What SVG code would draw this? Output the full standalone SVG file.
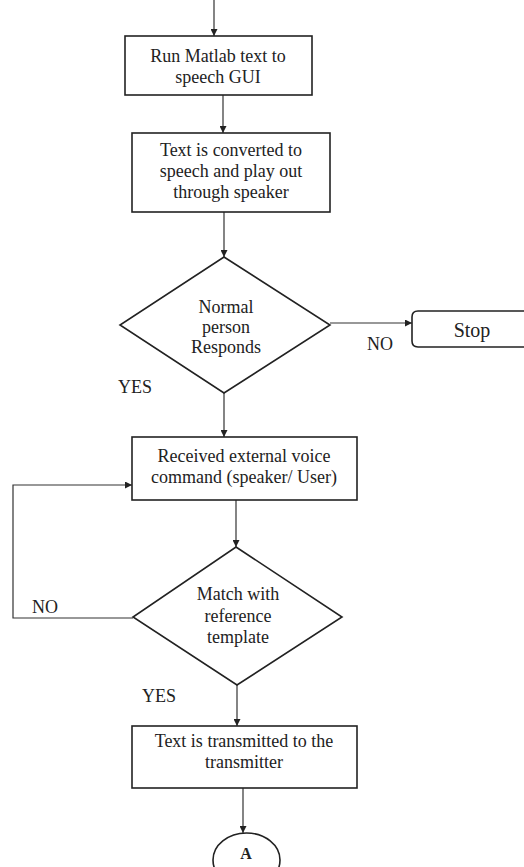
<svg xmlns="http://www.w3.org/2000/svg" width="524" height="867" viewBox="0 0 524 867">
<defs>
<marker id="ah" viewBox="0 0 10 10" refX="10" refY="5" markerWidth="7" markerHeight="7" markerUnits="userSpaceOnUse" orient="auto">
<path d="M0,0 L10,5 L0,10 z" fill="#222"/>
</marker>
<style>
.box{fill:#fff;stroke:#222;stroke-width:1.6}
.ln{fill:none;stroke:#333;stroke-width:1.2}
.t{font-family:"Liberation Serif","Times New Roman",serif;font-size:18px;fill:#222;text-anchor:middle}
.l{font-family:"Liberation Serif","Times New Roman",serif;font-size:18px;fill:#222}
</style>
</defs>
<rect width="524" height="867" fill="#fff"/>
<g id="connectors">
<line class="ln" x1="214" y1="0" x2="214" y2="36" marker-end="url(#ah)"/>
<line class="ln" x1="223" y1="95" x2="223" y2="133" marker-end="url(#ah)"/>
<line class="ln" x1="224" y1="212" x2="224" y2="257" marker-end="url(#ah)"/>
<line class="ln" x1="330" y1="323" x2="412" y2="323" marker-end="url(#ah)"/>
<line class="ln" x1="224" y1="393" x2="224" y2="437" marker-end="url(#ah)"/>
<line class="ln" x1="236" y1="500" x2="236" y2="547" marker-end="url(#ah)"/>
<polyline class="ln" points="133,618 13,618 13,485 132,485" marker-end="url(#ah)"/>
<line class="ln" x1="237" y1="685" x2="237" y2="726" marker-end="url(#ah)"/>
<line class="ln" x1="243" y1="788" x2="243" y2="833" marker-end="url(#ah)"/>
<text class="l" x="367" y="350">NO</text>
<text class="l" x="118" y="393">YES</text>
<text class="l" x="32" y="613">NO</text>
<text class="l" x="142" y="702">YES</text>
</g>
<g id="n1">
<rect class="box" x="125" y="36" width="187" height="59"/>
<text class="t" x="218" y="62">Run Matlab text to</text>
<text class="t" x="218" y="83">speech GUI</text>
</g>
<g id="n2">
<rect class="box" x="132" y="133" width="198" height="79"/>
<text class="t" x="231" y="156">Text is converted to</text>
<text class="t" x="231" y="177">speech and play out</text>
<text class="t" x="231" y="198">through speaker</text>
</g>
<g id="d1">
<polygon class="box" points="224,257 330,325 224,393 120,325"/>
<text class="t" x="226" y="313">Normal</text>
<text class="t" x="226" y="333">person</text>
<text class="t" x="226" y="353">Responds</text>
</g>
<g id="stop">
<path class="box" d="M530,311 L418,311 Q412,311 412,317 L412,341 Q412,347 418,347 L530,347"/>
<text class="t" x="472" y="337" style="font-size:20px">Stop</text>
</g>
<g id="n3">
<rect class="box" x="132" y="437" width="225" height="63"/>
<text class="t" x="244" y="462">Received external voice</text>
<text class="t" x="244" y="483">command (speaker/ User)</text>
</g>
<g id="d2">
<polygon class="box" points="236,547 342,617 237,685 133,617"/>
<text class="t" x="238" y="600">Match with</text>
<text class="t" x="238" y="622">reference</text>
<text class="t" x="238" y="643">template</text>
</g>
<g id="n4">
<rect class="box" x="132" y="726" width="225" height="62"/>
<text class="t" x="244" y="747">Text is transmitted to the</text>
<text class="t" x="244" y="768">transmitter</text>
</g>
<g id="a">
<ellipse class="box" cx="246.5" cy="860" rx="33.5" ry="27"/>
<text class="t" x="246" y="859" style="font-weight:bold;font-size:16px">A</text>
</g>
</svg>
